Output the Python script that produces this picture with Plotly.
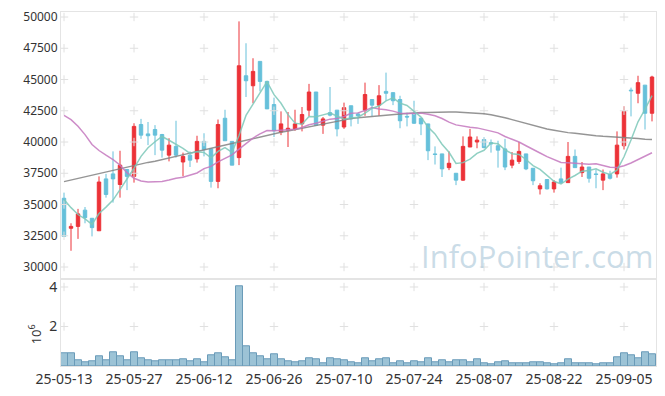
import plotly.graph_objects as go

dates = [
    "25-05-13","25-05-14","25-05-15","25-05-16","25-05-19","25-05-20","25-05-21","25-05-22","25-05-23","25-05-26",
    "25-05-27","25-05-28","25-05-29","25-05-30","25-06-02","25-06-04","25-06-05","25-06-09","25-06-10","25-06-11",
    "25-06-12","25-06-13","25-06-16","25-06-17","25-06-18","25-06-19","25-06-20","25-06-23","25-06-24","25-06-25",
    "25-06-26","25-06-27","25-06-30","25-07-01","25-07-02","25-07-03","25-07-04","25-07-07","25-07-08","25-07-09",
    "25-07-10","25-07-11","25-07-14","25-07-15","25-07-16","25-07-17","25-07-18","25-07-21","25-07-22","25-07-23",
    "25-07-24","25-07-25","25-07-28","25-07-29","25-07-30","25-07-31","25-08-01","25-08-04","25-08-05","25-08-06",
    "25-08-07","25-08-08","25-08-11","25-08-12","25-08-13","25-08-14","25-08-18","25-08-19","25-08-20","25-08-21",
    "25-08-22","25-08-25","25-08-26","25-08-27","25-08-28","25-08-29","25-09-01","25-09-02","25-09-03","25-09-04",
    "25-09-05","25-09-08","25-09-09","25-09-10","25-09-11",
]

opens = [35500,33100,33250,34550,33900,32900,37050,37450,36600,37800,
         37250,41400,40650,41000,40600,38950,39650,38400,38950,38650,
         40050,39450,36850,41900,40050,38750,45300,44500,46450,44850,
         43000,40800,40950,41050,41450,42550,44000,41350,42350,42550,
         41200,42900,42250,42550,43400,42950,44050,43950,43400,42050,
         42250,41900,41450,39050,39050,37950,37500,36950,39600,40000,
         40200,39950,39700,39450,38150,38450,39050,37900,36250,37000,
         36250,37050,36750,38850,37550,38000,37450,36950,37400,37450,
         39700,44150,43900,44550,42300]
highs = [35950,33500,34650,34800,33900,37250,37450,39250,39300,37850,
         41500,41850,41600,41350,40650,40300,41700,39150,39250,40500,
         40700,39450,41800,42580,40050,49650,47900,46700,46450,44850,
         43550,42450,42400,42580,42800,44650,44000,42000,44400,42550,
         43150,42900,42350,44750,43400,44550,45550,43950,43700,42350,
         43300,41900,41450,39650,39050,39250,37500,40450,41050,40450,
         40380,40200,40100,40250,39200,40000,39050,37900,36700,37000,
         36950,37950,40000,39400,38400,38000,37800,37800,37700,40850,
         42850,44350,45300,44550,45300]
lows = [32400,31300,32250,33500,32450,32900,35550,35150,35550,36150,
        36750,40250,39750,38950,38750,38450,38750,37250,38000,38350,
        38850,36350,36300,40100,38150,38150,43600,43100,44050,42650,
        40400,40550,39600,40900,40850,42050,41350,40650,42050,40450,
        41050,41250,41450,42100,42050,42100,43300,42950,41100,41250,
        41450,40550,38550,38200,37200,37750,36550,36900,39600,39500,
        39500,39150,37950,37750,37900,38250,37750,36550,35800,36200,
        35950,36650,36750,37950,37200,36750,36300,36150,37000,37150,
        39400,42050,43100,41000,41650]
closes = [32450,33250,34250,33950,33150,36800,35800,37050,38150,37250,
          41250,40550,40500,40550,39350,39750,38950,38850,38550,40050,
          39400,36850,41400,40100,38150,46100,44900,45650,44850,42650,
          40900,41450,41100,41450,42200,44000,41350,41850,42150,41050,
          42750,41850,42100,43800,42950,43700,43900,43300,41700,42000,
          41500,41450,39300,39000,37850,38300,36950,39650,40400,40150,
          39550,39850,39350,38000,38550,39250,37850,36900,36500,36250,
          36800,36750,38850,37950,38000,37100,37400,37450,37100,39750,
          42450,44100,44750,42300,45200]
volumes = [620000,620000,300000,170000,220000,470000,270000,720000,470000,270000,
           670000,370000,270000,220000,270000,270000,270000,320000,220000,320000,
           170000,520000,620000,420000,270000,4050000,1020000,620000,470000,320000,
           570000,320000,220000,170000,220000,370000,320000,120000,370000,320000,
           270000,170000,120000,370000,220000,320000,370000,120000,220000,120000,
           220000,170000,370000,170000,270000,170000,270000,270000,170000,320000,
           120000,70000,170000,220000,120000,120000,120000,170000,170000,120000,
           70000,120000,320000,120000,120000,120000,70000,120000,120000,420000,
           620000,520000,370000,670000,570000]
ma5 = [35400,34750,34200,33850,33410,34280,34790,35350,36190,37010,
       37900,38850,39540,40020,40440,40140,39820,39490,39090,39230,
       39160,38740,39250,39560,39180,40520,42130,42980,43930,44830,
       43790,43100,42190,41510,41420,42040,42020,42170,42310,42080,
       41830,41930,41980,42310,42690,42880,43290,43530,43110,42920,
       42480,41990,41190,40650,39820,39180,38280,38350,38630,39090,
       39340,39920,39860,39380,39060,39000,38600,38110,37810,37350,
       36860,36640,37030,37320,37670,37730,37860,37580,37410,37750,
       38820,40160,41620,42620,43710]
ma20 = [42130,41785,41255,40590,39800,39320,38950,38600,38150,37545,
        37100,36880,36800,36800,36850,36960,37100,37175,37360,37520,
        37870,38050,38410,38715,38965,39430,39885,40315,40650,40920,
        40900,40950,40980,41020,41165,41380,41500,41650,41830,41880,
        42045,42295,42330,42515,42755,42635,42585,42470,42310,42280,
        42310,42310,42220,42095,41880,41590,41370,41260,41175,41130,
        40970,40870,40730,40440,40220,40000,39700,39380,39120,38830,
        38595,38360,38340,38285,38290,38230,38255,38145,37980,37960,
        38105,38320,38590,38805,39140]
ma_long = [36830,36960,37100,37200,37330,37470,37600,37730,37840,37970,
           38100,38230,38370,38470,38610,38740,38870,39000,39110,39240,
           39370,39510,39640,39770,39880,40010,40140,40280,40430,40570,
           40670,40780,40880,40990,41100,41230,41340,41440,41550,41650,
           41760,41870,41940,42000,42050,42100,42160,42210,42240,42290,
           42340,42370,42370,42400,42400,42400,42400,42370,42340,42320,
           42260,42180,42080,41940,41790,41630,41490,41340,41180,41040,
           40940,40830,40750,40700,40620,40570,40510,40460,40430,40380,
           40350,40300,40280,40220,40200]

price_ticks = [30000, 32500, 35000, 37500, 40000, 42500, 45000, 47500, 50000]
price_tick_text = [str(p) for p in price_ticks]
vol_ticks = [2000000, 4000000]
vol_tick_text = ["2", "4"]
date_ticks = dates[::10]

RED = "#ec3238"
BLUE = "#66c0da"
GRID = "#e0e0e0"
BORDER = "#e4e4e4"
FONT = "Noto Sans"

fig = go.Figure()

# grid crosses at tick intersections
cx, cy = [], []
for d in date_ticks:
    for p in price_ticks:
        cx.append(d); cy.append(p)
fig.add_trace(go.Scatter(x=cx, y=cy, mode="markers", xaxis="x", yaxis="y",
                         marker=dict(symbol="cross-thin", size=6, line=dict(color=GRID, width=1)),
                         hoverinfo="skip", showlegend=False))
vx, vy = [], []
for d in date_ticks:
    for v in vol_ticks:
        vx.append(d); vy.append(v)
fig.add_trace(go.Scatter(x=vx, y=vy, mode="markers", xaxis="x2", yaxis="y2",
                         marker=dict(symbol="cross-thin", size=6, line=dict(color=GRID, width=1)),
                         hoverinfo="skip", showlegend=False))

fig.add_trace(go.Scatter(x=dates, y=ma_long, mode="lines", xaxis="x", yaxis="y",
                         line=dict(color="rgba(130,130,130,0.85)", width=1.5), showlegend=False))
fig.add_trace(go.Scatter(x=dates, y=ma20, mode="lines", xaxis="x", yaxis="y",
                         line=dict(color="rgba(196,120,190,0.85)", width=1.5), showlegend=False))
fig.add_trace(go.Scatter(x=dates, y=ma5, mode="lines", xaxis="x", yaxis="y",
                         line=dict(color="rgba(125,200,185,0.85)", width=1.5), showlegend=False))

fig.add_trace(go.Candlestick(
    x=dates, open=opens, high=highs, low=lows, close=closes, xaxis="x", yaxis="y",
    increasing=dict(line=dict(color=RED, width=1), fillcolor=RED),
    decreasing=dict(line=dict(color=BLUE, width=1), fillcolor=BLUE),
    whiskerwidth=0, showlegend=False, hoverinfo="skip"))

fig.add_trace(go.Bar(x=dates, y=volumes, xaxis="x2", yaxis="y2",
                     marker=dict(color="#9cc3d6", line=dict(color="#6a9bb8", width=1)),
                     showlegend=False, hoverinfo="skip"))

axis_common = dict(type="category", categoryorder="array", categoryarray=dates,
                   range=[-0.43, 84.57], showgrid=False, zeroline=False,
                   showline=True, linecolor=BORDER, linewidth=1, mirror=True, ticks="")

# page body has an 8px default margin, so the figure is sized to fit inside the window
fig.update_layout(
    width=649, height=380,
    margin=dict(l=53, r=0, t=2, b=21),
    paper_bgcolor="white", plot_bgcolor="white",
    font=dict(family=FONT, color="#333333", size=12),
    showlegend=False,
    bargap=0,
    hovermode=False,
    xaxis=dict(axis_common, anchor="y", showticklabels=False, rangeslider=dict(visible=False)),
    xaxis2=dict(axis_common, anchor="y2", matches="x", tickvals=date_ticks, ticktext=date_ticks,
                ticklabeloverflow="allow",
                tickfont=dict(size=14, family=FONT, color="#333333")),
    yaxis=dict(domain=[0.245, 1], range=[29020, 50400], tickvals=price_ticks, ticktext=price_tick_text,
               ticklabeloverflow="allow",
               showgrid=False, zeroline=False, showline=True, linecolor=BORDER, mirror=True,
               ticks="", tickfont=dict(size=12, family=FONT, color="#333333")),
    yaxis2=dict(domain=[0, 0.245], range=[0, 4390000], tickvals=vol_ticks, ticktext=vol_tick_text,
                ticklabeloverflow="allow",
                showgrid=False, zeroline=False, showline=True, linecolor=BORDER, mirror=True,
                ticks="", tickfont=dict(size=14, family=FONT, color="#333333")),
    annotations=[
        dict(text="InfoPointer.com", xref="paper", yref="paper", x=0.80, y=0.311,
             xanchor="center", yanchor="middle", showarrow=False,
             font=dict(family="Open Sans", size=31, color="rgba(150,185,208,0.5)")),
        dict(text="10<sup>6</sup>", xref="paper", yref="paper", x=-0.045, y=0.09,
             xanchor="center", yanchor="middle", showarrow=False, textangle=-90,
             font=dict(family=FONT, size=13, color="#333333")),
    ],
)

fig.write_html("out.html", config={"displayModeBar": False})
